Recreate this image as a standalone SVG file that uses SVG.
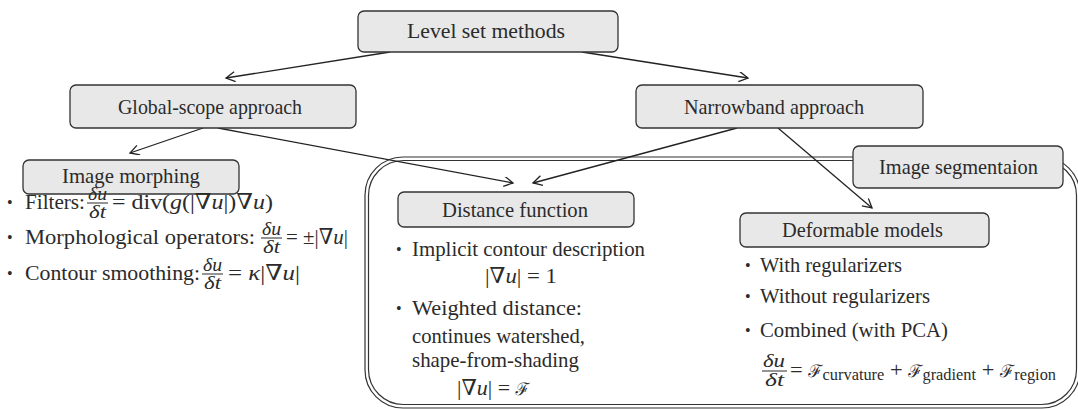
<svg xmlns="http://www.w3.org/2000/svg" width="1078" height="409" viewBox="0 0 1078 409">
<defs>
<style>
.box{fill:#e8e8e8;stroke:#333;stroke-width:1.3}
.lbl{font-family:"Liberation Serif","DejaVu Serif",serif;font-size:22px;fill:#2b2b2b}
.t{font-family:"Liberation Serif","DejaVu Serif",serif;font-size:22px;fill:#2b2b2b}
.m{font-family:"Liberation Serif","DejaVu Serif",serif;font-size:19px;fill:#2b2b2b}
.b{font-family:"Liberation Serif","DejaVu Serif",serif;font-size:16px;fill:#2b2b2b}
.i{font-style:italic}
.sf{font-family:"DejaVu Serif","Noto Sans",serif;font-size:17px}
.sub{font-size:16px}
.con{fill:none;stroke:#222;stroke-width:1.3}
.bar{stroke:#2b2b2b;stroke-width:1}
.cont{fill:none;stroke:#333;stroke-width:1.2}
</style>
<marker id="ah" markerWidth="12" markerHeight="12" refX="10" refY="5" orient="auto" markerUnits="userSpaceOnUse">
<path d="M1,0 L10,5 L1,10" fill="none" stroke="#222" stroke-width="1.3"/>
</marker>
</defs>
<rect width="1078" height="409" fill="#fff"/>
<g id="container">
<rect x="365" y="157" width="715" height="251" rx="38" fill="#f6f6f6" class="cont"/>
<rect x="368.5" y="160.5" width="708" height="244" rx="35" class="cont"/>
</g>
<g id="connectors">
<line x1="390" y1="52" x2="226" y2="78" class="con" marker-end="url(#ah)"/>
<line x1="582" y1="52" x2="748" y2="78" class="con" marker-end="url(#ah)"/>
<line x1="203" y1="128" x2="130" y2="153" class="con" marker-end="url(#ah)"/>
<line x1="218" y1="128" x2="513" y2="183" class="con" marker-end="url(#ah)"/>
<line x1="737" y1="128" x2="533" y2="183" class="con" marker-end="url(#ah)"/>
<line x1="778" y1="128" x2="872" y2="208" class="con" marker-end="url(#ah)"/>
</g>
<g id="level-set">
<rect x="358" y="11" width="260" height="41" rx="6" class="box"/>
<text x="407" y="38" class="lbl" textLength="158" lengthAdjust="spacingAndGlyphs">Level set methods</text>
</g>
<g id="global-scope">
<rect x="70" y="85" width="286" height="43" rx="6" class="box"/>
<text x="118" y="114" class="lbl" textLength="184" lengthAdjust="spacingAndGlyphs">Global-scope approach</text>
</g>
<g id="narrowband">
<rect x="636" y="85" width="287" height="43" rx="6" class="box"/>
<text x="684" y="114" class="lbl" textLength="180" lengthAdjust="spacingAndGlyphs">Narrowband approach</text>
</g>
<g id="image-morphing">
<rect x="23" y="160" width="216" height="34" rx="6" class="box"/>
<text x="62" y="183" class="lbl" textLength="138" lengthAdjust="spacingAndGlyphs">Image morphing</text>
</g>
<g id="morphing-items">
<text x="7" y="208" class="b">•</text>
<text x="25" y="209" class="t" textLength="60" lengthAdjust="spacingAndGlyphs">Filters:</text>
<text x="88" y="200" class="m i" textLength="19" lengthAdjust="spacingAndGlyphs">δu</text>
<line x1="87" y1="203" x2="108" y2="203" class="bar"/>
<text x="89" y="218" class="m i" textLength="17" lengthAdjust="spacingAndGlyphs">δt</text>
<text x="112" y="209" class="t" textLength="161" lengthAdjust="spacingAndGlyphs">= div(<tspan class="i">g</tspan>(|∇<tspan class="i">u</tspan>|)∇<tspan class="i">u</tspan>)</text>
<text x="7" y="243" class="b">•</text>
<text x="25" y="244" class="t" textLength="230" lengthAdjust="spacingAndGlyphs">Morphological operators:</text>
<text x="262" y="235" class="m i" textLength="19" lengthAdjust="spacingAndGlyphs">δu</text>
<line x1="261" y1="238" x2="282" y2="238" class="bar"/>
<text x="263" y="253" class="m i" textLength="17" lengthAdjust="spacingAndGlyphs">δt</text>
<text x="286" y="244" class="t" textLength="62" lengthAdjust="spacingAndGlyphs">= ±|∇<tspan class="i">u</tspan>|</text>
<text x="7" y="279" class="b">•</text>
<text x="25" y="280" class="t" textLength="175" lengthAdjust="spacingAndGlyphs">Contour smoothing:</text>
<text x="203" y="271" class="m i" textLength="19" lengthAdjust="spacingAndGlyphs">δu</text>
<line x1="202" y1="274" x2="223" y2="274" class="bar"/>
<text x="204" y="289" class="m i" textLength="17" lengthAdjust="spacingAndGlyphs">δt</text>
<text x="228" y="280" class="t" textLength="72" lengthAdjust="spacingAndGlyphs">= <tspan class="i">κ</tspan>|∇<tspan class="i">u</tspan>|</text>
</g>
<g id="distance-function">
<rect x="398" y="192" width="236" height="35" rx="6" class="box"/>
<text x="442" y="217" class="lbl" textLength="146" lengthAdjust="spacingAndGlyphs">Distance function</text>
</g>
<g id="distance-items">
<text x="396" y="255" class="b">•</text>
<text x="412" y="256" class="t" textLength="233" lengthAdjust="spacingAndGlyphs">Implicit contour description</text>
<text x="485" y="283" class="t" textLength="72" lengthAdjust="spacingAndGlyphs">|∇<tspan class="i">u</tspan>| = 1</text>
<text x="396" y="314" class="b">•</text>
<text x="412" y="315" class="t" textLength="170" lengthAdjust="spacingAndGlyphs">Weighted distance:</text>
<text x="412" y="343" class="t" textLength="173" lengthAdjust="spacingAndGlyphs">continues watershed,</text>
<text x="412" y="367" class="t" textLength="167" lengthAdjust="spacingAndGlyphs">shape-from-shading</text>
<text x="457" y="395" class="t">|∇<tspan class="i">u</tspan>| = <tspan class="sf">ℱ</tspan></text>
</g>
<g id="image-segmentation">
<rect x="853" y="146" width="210" height="42" rx="6" class="box"/>
<text x="879" y="174" class="lbl" textLength="159" lengthAdjust="spacingAndGlyphs">Image segmentaion</text>
</g>
<g id="deformable-models">
<rect x="740" y="213" width="249" height="34" rx="6" class="box"/>
<text x="782" y="237" class="lbl" textLength="161" lengthAdjust="spacingAndGlyphs">Deformable models</text>
</g>
<g id="deformable-items">
<text x="745" y="271" class="b">•</text>
<text x="760" y="272" class="t" textLength="142" lengthAdjust="spacingAndGlyphs">With regularizers</text>
<text x="745" y="302" class="b">•</text>
<text x="760" y="303" class="t" textLength="170" lengthAdjust="spacingAndGlyphs">Without regularizers</text>
<text x="745" y="336" class="b">•</text>
<text x="760" y="337" class="t" textLength="188" lengthAdjust="spacingAndGlyphs">Combined (with PCA)</text>
<text x="763" y="367" class="m i" textLength="22" lengthAdjust="spacingAndGlyphs">δu</text>
<line x1="762" y1="371" x2="787" y2="371" class="bar"/>
<text x="765" y="386" class="m i" textLength="19" lengthAdjust="spacingAndGlyphs">δt</text>
<text x="790" y="377" class="t" textLength="266" lengthAdjust="spacingAndGlyphs">= <tspan class="sf">ℱ</tspan><tspan class="sub" dy="3">curvature</tspan><tspan dy="-3"> + </tspan><tspan class="sf">ℱ</tspan><tspan class="sub" dy="3">gradient</tspan><tspan dy="-3"> + </tspan><tspan class="sf">ℱ</tspan><tspan class="sub" dy="3">region</tspan></text>
</g>
</svg>
